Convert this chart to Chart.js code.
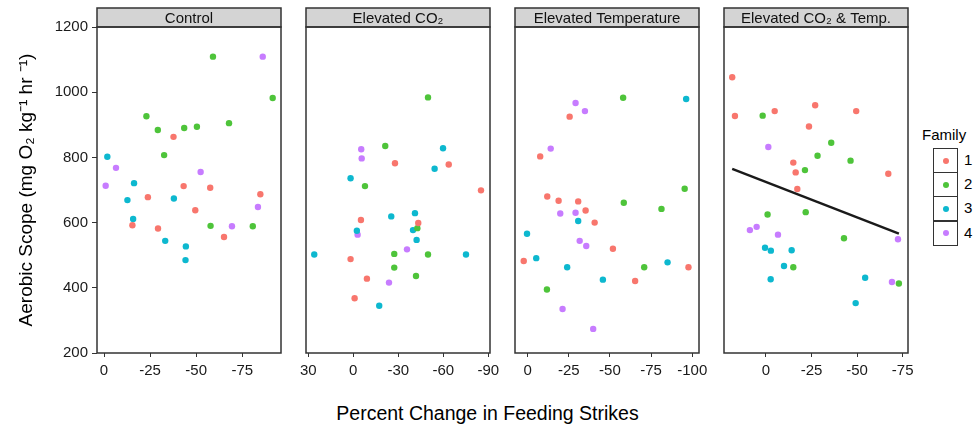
<!DOCTYPE html>
<html><head><meta charset="utf-8">
<script src="https://cdn.jsdelivr.net/npm/chart.js@4"></script>
<style>
body{margin:0;background:#fff;}
#wrap{position:relative;width:978px;height:429px;overflow:hidden;font-family:"Liberation Sans",Arial,Helvetica,sans-serif;color:#000;}
#wrap canvas{position:absolute;top:0;}
#xtitle{position:absolute;left:0;width:975px;top:401px;text-align:center;font-size:19.5px;line-height:24px;}
#legTitle{position:absolute;left:922px;top:126px;font-size:15px;line-height:18px;}
.key{position:absolute;left:933px;width:23px;height:23px;border:1px solid #333;box-sizing:content-box;}
.dot{position:absolute;left:8.5px;top:8.5px;width:6px;height:6px;border-radius:50%;}
.klab{position:absolute;left:964px;font-size:15px;line-height:18px;}
</style></head>
<body>
<div id="wrap">
  <div id="xtitle">Percent Change in Feeding Strikes</div>
  <div id="legTitle">Family</div>
</div>
<script>
// ---------- data ----------
const families = ['1', '2', '3', '4'];
const panelTitles = ['Control', 'Elevated CO\u2082', 'Elevated Temperature', 'Elevated CO\u2082 & Temp.'];
const yTicks = [200, 400, 600, 800, 1000, 1200];
const xTicksControl = [0, -25, -50, -75];
const xTicksCO2 = [30, 0, -30, -60, -90];
const xTicksTemp = [0, -25, -50, -75, -100];
const xTicksBoth = [0, -25, -50, -75];

// [percent change in feeding strikes, aerobic scope]
const control1 = [[-37.7,863],[-43.2,712],[-57.6,707],[-84.8,687],[-23.8,678],[-49.5,638],[-15.4,592],[-29.3,582],[-65.1,556]];
const control2 = [[-59.1,1109],[-91.5,982],[-23.0,926],[-29.2,884],[-43.5,890],[-50.4,894],[-67.8,905],[-32.6,807],[-57.8,590],[-80.7,589]];
const control3 = [[-1.8,802],[-16.3,721],[-12.7,669],[-37.9,674],[-15.8,611],[-33.2,544],[-44.4,527],[-44.2,485]];
const control4 = [[-86.1,1109],[-6.5,768],[-52.4,755],[-0.9,713],[-83.5,648],[-69.4,589]];

const co2_1 = [[-27.8,782],[-63.6,778],[-85.1,699],[-5.1,608],[-43.3,599],[1.8,488],[-9.1,428],[-0.9,368]];
const co2_2 = [[-49.8,984],[-21.3,835],[-7.8,712],[-42.7,583],[-27.3,504],[-49.8,502],[-27.3,462],[-41.8,436]];
const co2_3 = [[-59.8,828],[-54.2,765],[1.8,736],[-41.1,629],[-25.3,619],[-2.4,575],[-39.8,577],[-42.2,547],[26,502],[-75.1,502],[-17.3,345]];
const co2_4 = [[-5.3,825],[-5.6,797],[-2.9,563],[-35.8,518],[-23.8,416]];

const temp1 = [[-25.5,925],[-7.6,803],[-11.9,680],[-18.8,667],[-30.7,665],[-35.2,637],[-40.7,600],[-51.8,520],[2.4,482],[-97.7,463],[-65.3,421]];
const temp2 = [[-58.0,983],[-95.4,704],[-58.4,661],[-81.3,642],[-70.8,463],[-11.7,395]];
const temp3 = [[-96.3,979],[-30.7,605],[0.4,566],[-5.2,491],[-85.0,478],[-24.0,463],[-45.7,425]];
const temp4 = [[-29.1,967],[-34.8,942],[-14.0,827],[-19.8,628],[-29.1,630],[-31.6,544],[-35.6,528],[-21.2,335],[-39.8,274]];

const both1 = [[18.5,1046],[17.0,927],[-4.8,942],[-27.0,960],[-49.5,942],[-23.6,895],[-15.0,784],[-16.3,754],[-17.2,703],[-67.1,750]];
const both2 = [[1.8,928],[-35.8,845],[-28.3,805],[-46.4,790],[-21.4,761],[-21.8,632],[-0.9,625],[-42.8,552],[-15.0,463],[-72.9,413]];
const both3 = [[0.5,523],[-2.7,514],[-14.1,515],[-9.9,467],[-2.6,426],[-54.4,431],[-49.2,353]];
const both4 = [[-1.3,832],[8.8,577],[5.1,587],[-6.6,563],[-72.4,549],[-69.1,418]];

// fitted line (Elevated CO2 & Temp.)
const trendX = [18.5, -72.9];
const trendY = [765, 566];

// ---------- styling / layout ----------
const FONT = '"Liberation Sans", Arial, Helvetica, sans-serif';
const familyColors = ['#F8766D', '#4EC43A', '#0DB8CF', '#C77CFF'];
const panelData = [
  [control1, control2, control3, control4],
  [co2_1, co2_2, co2_3, co2_4],
  [temp1, temp2, temp3, temp4],
  [both1, both2, both3, both4]
];
const panelTicks = [xTicksControl, xTicksCO2, xTicksTemp, xTicksBoth];
const panelLeft = [97, 306, 515, 724];
const panelW = 184;
const panelRange = [[-96, 3.8], [-91.1, 31.5], [-104.1, 7.7], [-77.9, 23.0]];
const AXIS_W = 97, SIDE = 15, CANVAS_H = 380, TOP = 27, STRIP_TOP = 8;

const panelPlugin = {
  id: 'panelDeco',
  afterDraw(chart, args, opts) {
    const {ctx, chartArea: a} = chart;
    ctx.save();
    // strip
    ctx.fillStyle = '#D4D4D4';
    ctx.fillRect(a.left, STRIP_TOP, a.right - a.left, a.top - STRIP_TOP);
    ctx.strokeStyle = '#333333';
    ctx.lineWidth = 1.5;
    ctx.strokeRect(a.left, STRIP_TOP, a.right - a.left, a.top - STRIP_TOP);
    ctx.fillStyle = '#111';
    ctx.font = '15px ' + FONT;
    ctx.textAlign = 'center';
    ctx.textBaseline = 'middle';
    ctx.fillText(opts.title, (a.left + a.right) / 2, (STRIP_TOP + a.top) / 2 + 1);
    // panel border
    ctx.strokeRect(a.left, a.top, a.right - a.left, a.bottom - a.top);
    ctx.restore();
  }
};

const wrap = document.getElementById('wrap');

function makeChart(i) {
  const first = i === 0;
  const cLeft = panelLeft[i] - (first ? AXIS_W : SIDE);
  const cW = panelLeft[i] + panelW + SIDE - cLeft;
  const canvas = document.createElement('canvas');
  canvas.width = cW; canvas.height = CANVAS_H;
  canvas.style.left = cLeft + 'px';
  canvas.style.width = cW + 'px'; canvas.style.height = CANVAS_H + 'px';
  wrap.appendChild(canvas);

  const datasets = panelData[i].map((pts, f) => ({
    type: 'scatter',
    label: families[f],
    data: pts.map(p => ({x: p[0], y: p[1]})),
    backgroundColor: familyColors[f],
    borderWidth: 0,
    pointRadius: 3.2,
    pointHoverRadius: 3.2
  }));
  if (i === 3) {
    datasets.push({
      type: 'line',
      label: 'fit',
      data: trendX.map((x, k) => ({x: x, y: trendY[k]})),
      borderColor: '#1a1a1a',
      borderWidth: 2.4,
      pointRadius: 0,
      fill: false
    });
  }

  new Chart(canvas, {
    data: {datasets},
    plugins: [panelPlugin],
    options: {
      responsive: false,
      animation: false,
      devicePixelRatio: 1,
      layout: {padding: {left: first ? 0 : SIDE, right: SIDE, top: TOP, bottom: 0}},
      plugins: {legend: {display: false}, tooltip: {enabled: false}, panelDeco: {title: panelTitles[i]}},
      scales: {
        x: {
          type: 'linear',
          position: 'bottom',
          min: panelRange[i][0],
          max: panelRange[i][1],
          reverse: true,
          afterFit(s) { s.height = CANVAS_H - 353; },
          afterBuildTicks(s) { s.ticks = panelTicks[i].map(v => ({value: v})); },
          grid: {display: true, drawOnChartArea: false, drawTicks: true, tickLength: 4, color: '#333', lineWidth: 1},
          border: {display: false},
          ticks: {font: {family: FONT, size: 15}, color: '#1a1a1a', padding: 5, maxRotation: 0, autoSkip: false,
                  callback: v => String(v)}
        },
        y: {
          type: 'linear',
          display: first,
          min: 200, max: 1200,
          afterFit(s) { if (first) s.width = AXIS_W; },
          afterBuildTicks(s) { s.ticks = yTicks.map(v => ({value: v})); },
          grid: {display: true, drawOnChartArea: false, drawTicks: true, tickLength: 5, color: '#333', lineWidth: 1},
          border: {display: false},
          ticks: {font: {family: FONT, size: 15}, color: '#1a1a1a', padding: 4, callback: v => String(v)},
          title: {display: true, text: 'Aerobic Scope (mg O\u2082 kg\u207B\u00B9 hr \u207B\u00B9)',
                  font: {family: FONT, size: 19}, color: '#000', padding: {top: 15, bottom: 0}}
        }
      }
    }
  });
}
for (let i = 0; i < 4; i++) makeChart(i);

// legend
families.forEach((f, k) => {
  const top = 148 + k * 24.2;
  const key = document.createElement('div');
  key.className = 'key'; key.style.top = top + 'px';
  const dot = document.createElement('div');
  dot.className = 'dot'; dot.style.background = familyColors[k];
  key.appendChild(dot); wrap.appendChild(key);
  const lab = document.createElement('div');
  lab.className = 'klab'; lab.style.top = (top + 3) + 'px'; lab.textContent = f;
  wrap.appendChild(lab);
});
</script>
</body></html>
